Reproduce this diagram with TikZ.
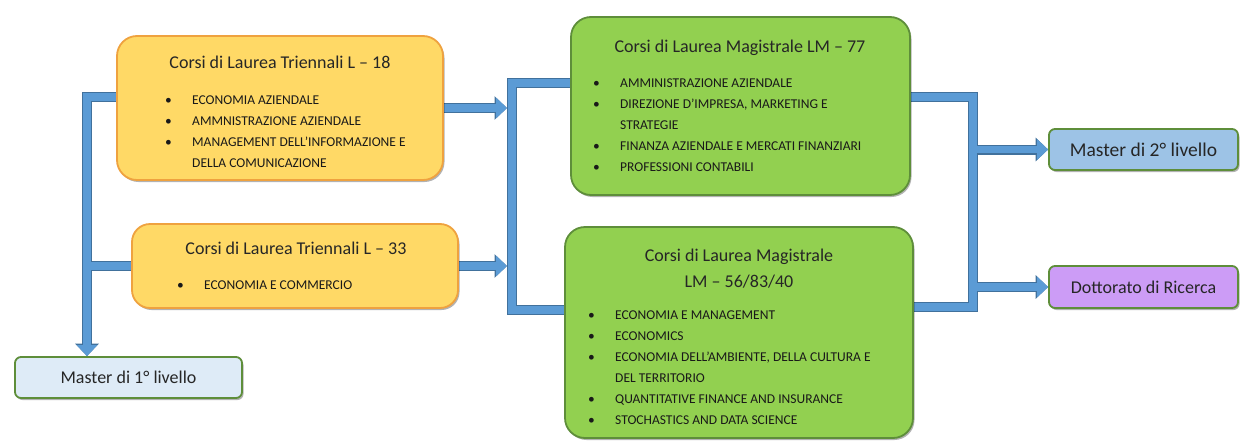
\documentclass[tikz,border=0pt]{standalone}
\usepackage{fontspec}
\setmainfont{Carlito}
\usetikzlibrary{positioning,arrows.meta,shadows,backgrounds}

\definecolor{arancio}{HTML}{FFD966}
\definecolor{arancioBordo}{HTML}{EFA23F}
\definecolor{verde}{HTML}{92D050}
\definecolor{verdeBordo}{HTML}{5E8E3A}
\definecolor{azzurro}{HTML}{DEEBF7}
\definecolor{celeste}{HTML}{9DC3E6}
\definecolor{lilla}{HTML}{CC9CF6}
\definecolor{tubo}{HTML}{5B9BD5}
\definecolor{tuboBordo}{HTML}{41719C}

\tikzstyle{box} = [rectangle, rounded corners=20pt, line width=1.8pt, drop shadow={shadow xshift=1.5pt, shadow yshift=-2pt, opacity=0.3, fill=black}]
\tikzstyle{triennale} = [box, draw=arancioBordo, fill=arancio]
\tikzstyle{magistrale} = [box, draw=verdeBordo, fill=verde]
\tikzstyle{master} = [box, rounded corners=6pt, draw=verdeBordo, text=black!85, font=\fontsize{18}{21}\selectfont]
\tikzstyle{titolo} = [inner sep=0pt, align=center, text=black!85, font=\fontsize{18}{26}\selectfont]
\tikzstyle{elenco} = [inner sep=0pt, align=left, text=black!90, font=\fontsize{13.5}{21}\selectfont]
\tikzstyle{tubobordo} = [line width=10pt, draw=tuboBordo]
\tikzstyle{tubocorpo} = [line width=7.5pt, draw=tubo]
\tikzstyle{punta} = [-{Triangle[width=10pt 1.3, length=6pt 0.65]}]

\newcommand{\voce}{\makebox[27pt][l]{\textbullet}}
\newcommand{\segue}{\hspace*{27pt}}

\begin{document}
\begin{tikzpicture}[x=1pt, y=-1pt]
\useasboundingbox (0,0) rectangle (1242,442);

% lauree triennali
\node (l18) [triennale, minimum width=326pt, minimum height=144pt] at (280,108) {};
\node (l18titolo) [titolo, anchor=base] at (280,68.8) {Corsi di Laurea Triennali L – 18};
\node (l18voci) [elenco, anchor=north west] at (165,95.6) {\voce ECONOMIA AZIENDALE\\ \voce AMMNISTRAZIONE AZIENDALE\\ \voce MANAGEMENT DELL’INFORMAZIONE E\\ \segue DELLA COMUNICAZIONE};

\node (l33) [triennale, rounded corners=18pt, minimum width=326pt, minimum height=84pt] at (295,266) {};
\node (l33titolo) [titolo, anchor=base] at (296,254.8) {Corsi di Laurea Triennali L – 33};
\node (l33voci) [elenco, anchor=north west] at (177,280.6) {\voce ECONOMIA E COMMERCIO};

% lauree magistrali
\node (lm77) [magistrale, minimum width=339pt, minimum height=178pt] at (740.5,106) {};
\node (lm77titolo) [titolo, anchor=base] at (740,52.8) {Corsi di Laurea Magistrale LM – 77};
\node (lm77voci) [elenco, anchor=north west] at (593,78.4) {\voce AMMINISTRAZIONE AZIENDALE\\ \voce DIREZIONE D’IMPRESA, MARKETING E\\ \segue STRATEGIE\\ \voce FINANZA AZIENDALE E MERCATI FINANZIARI\\ \voce PROFESSIONI CONTABILI};

\node (lm56) [magistrale, minimum width=348pt, minimum height=211pt] at (739,332.5) {};
\node (lm56titolo) [titolo, anchor=north] at (739,249.2) {Corsi di Laurea Magistrale\\LM – 56/83/40};
\node (lm56voci) [elenco, anchor=north west] at (588,310.6) {\voce ECONOMIA E MANAGEMENT\\ \voce ECONOMICS\\ \voce ECONOMIA DELL’AMBIENTE, DELLA CULTURA E\\ \segue DEL TERRITORIO\\ \voce QUANTITATIVE FINANCE AND INSURANCE\\ \voce STOCHASTICS AND DATA SCIENCE};

% sbocchi
\node (m1) [master, fill=azzurro, minimum width=227pt, minimum height=41pt] at (128.5,377.5) {Master di 1° livello};
\node (m2) [master, fill=celeste, minimum width=189pt, minimum height=41pt, font=\fontsize{19.5}{22}\selectfont] at (1143.5,149.5) {Master di 2° livello};
\node (dott) [master, fill=lilla, minimum width=189pt, minimum height=42pt] at (1143.5,287) {Dottorato di Ricerca};

% tubi di collegamento
\coordinate (sx) at (87,200);
\coordinate (cx) at (512,200);
\coordinate (cxl) at (507,200);
\coordinate (dx) at (973,200);

\begin{scope}[on background layer]
\foreach \strato in {tubobordo,tubocorpo} {
  \draw [\strato, punta] ([yshift=11pt]l18.west) -| ([xshift=-41.5pt]m1.north);
  \draw [\strato] (l33.west) -- (l33.west -| sx);
  \draw [\strato, punta] (l18.east) -- (l18.east -| cxl);
  \draw [\strato, punta] (l33.east) -- (l33.east -| cxl);
  \draw [\strato] ([yshift=23pt]lm77.west) -| (cx) |- ([yshift=22.5pt]lm56.west);
  \draw [\strato] ([yshift=9pt]lm77.east) -| (dx) |- ([yshift=25.5pt]lm56.east);
  \draw [\strato, punta] (m2.west -| dx) -- (m2.west);
  \draw [\strato, punta] (dott.west -| dx) -- (dott.west);
}
\end{scope}
\end{tikzpicture}
\end{document}
